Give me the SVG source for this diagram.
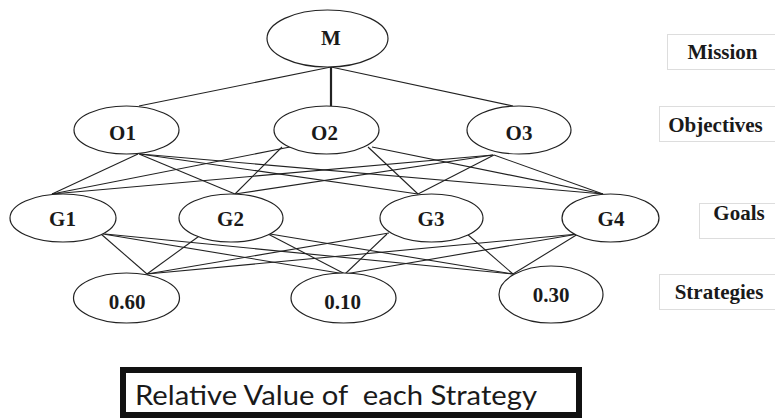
<svg xmlns="http://www.w3.org/2000/svg" width="775" height="418" viewBox="0 0 775 418">
  <style>
    .node ellipse { fill: #ffffff; stroke: #222222; stroke-width: 1.2; }
    .node text { font-family: "Liberation Serif", "Times New Roman", serif; font-weight: bold; font-size: 21px; fill: #1a1a1a; text-anchor: middle; }
    .links line { stroke: #222222; stroke-width: 1.1; }
    .level rect { fill: #ffffff; stroke: #dddddd; stroke-width: 1; }
    .level text { font-family: "Liberation Serif", "Times New Roman", serif; font-weight: bold; font-size: 21px; fill: #1a1a1a; text-anchor: middle; }
    .caption rect { fill: #ffffff; stroke: #111111; stroke-width: 6; }
    .caption text { font-family: "Lato", "Open Sans", sans-serif; font-size: 26px; fill: #1a1a1a; }
  </style>

  <!-- connectors -->
  <g class="links">
    <!-- mission to objectives -->
    <line x1="331" y1="67" x2="139" y2="106"/>
    <line x1="331" y1="67" x2="331" y2="106" style="stroke-width:2.2"/>
    <line x1="331" y1="67" x2="513" y2="106"/>
    <!-- objectives to goals -->
    <line x1="138" y1="154" x2="52" y2="194"/>
    <line x1="139" y1="154" x2="235" y2="194"/>
    <line x1="140" y1="154" x2="418" y2="194"/>
    <line x1="140" y1="154" x2="603" y2="194"/>
    <line x1="290" y1="147" x2="52" y2="194"/>
    <line x1="282" y1="147" x2="235" y2="194"/>
    <line x1="368" y1="147" x2="418" y2="194"/>
    <line x1="372" y1="147" x2="603" y2="194"/>
    <line x1="493" y1="155" x2="52" y2="194"/>
    <line x1="493" y1="155" x2="235" y2="194"/>
    <line x1="494" y1="155" x2="418" y2="194"/>
    <line x1="494" y1="155" x2="603" y2="194"/>
    <!-- goals to strategies -->
    <line x1="101" y1="234" x2="147" y2="274"/>
    <line x1="103" y1="234" x2="345" y2="274"/>
    <line x1="105" y1="234" x2="513" y2="274"/>
    <line x1="202" y1="234" x2="147" y2="274"/>
    <line x1="268" y1="234" x2="345" y2="274"/>
    <line x1="270" y1="234" x2="513" y2="274"/>
    <line x1="387" y1="234" x2="345" y2="274"/>
    <line x1="389" y1="233" x2="147" y2="274"/>
    <line x1="467" y1="234" x2="513" y2="274"/>
    <line x1="578" y1="234" x2="147" y2="274"/>
    <line x1="578" y1="234" x2="345" y2="274"/>
    <line x1="578" y1="234" x2="513" y2="274"/>
  </g>

  <!-- mission -->
  <g id="M" class="node">
    <ellipse cx="327.5" cy="38.5" rx="60.5" ry="28.5"/>
    <text x="331" y="45">M</text>
  </g>

  <!-- objectives -->
  <g id="O1" class="node">
    <ellipse cx="126.5" cy="130" rx="52.5" ry="24"/>
    <text x="122.5" y="140">O1</text>
  </g>
  <g id="O2" class="node">
    <ellipse cx="326.5" cy="130" rx="52.5" ry="24"/>
    <text x="324.5" y="140">O2</text>
  </g>
  <g id="O3" class="node">
    <ellipse cx="519" cy="130" rx="52" ry="24"/>
    <text x="519" y="140">O3</text>
  </g>

  <!-- goals -->
  <g id="G1" class="node">
    <ellipse cx="63" cy="218" rx="53" ry="24"/>
    <text x="62.5" y="226">G1</text>
  </g>
  <g id="G2" class="node">
    <ellipse cx="231" cy="218" rx="52" ry="24"/>
    <text x="230.5" y="226">G2</text>
  </g>
  <g id="G3" class="node">
    <ellipse cx="431.5" cy="218" rx="51.5" ry="24"/>
    <text x="431" y="226">G3</text>
  </g>
  <g id="G4" class="node">
    <ellipse cx="610.5" cy="218" rx="48.5" ry="24"/>
    <text x="611" y="226">G4</text>
  </g>

  <!-- strategies -->
  <g id="S1" class="node">
    <ellipse cx="126.5" cy="298" rx="53" ry="25"/>
    <text x="127" y="309">0.60</text>
  </g>
  <g id="S2" class="node">
    <ellipse cx="343.5" cy="298" rx="52.5" ry="25"/>
    <text x="342.5" y="309">0.10</text>
  </g>
  <g id="S3" class="node">
    <ellipse cx="551" cy="294.5" rx="52" ry="28.5"/>
    <text x="551" y="302">0.30</text>
  </g>

  <!-- level labels -->
  <g id="level-mission" class="level">
    <rect x="667.5" y="34.5" width="110" height="35"/>
    <text x="722.5" y="59">Mission</text>
  </g>
  <g id="level-objectives" class="level">
    <rect x="659.5" y="106.5" width="118" height="35"/>
    <text x="715.5" y="132">Objectives</text>
  </g>
  <g id="level-goals" class="level">
    <rect x="699.5" y="203.5" width="78" height="35"/>
    <text x="739" y="220">Goals</text>
  </g>
  <g id="level-strategies" class="level">
    <rect x="659.5" y="274.5" width="118" height="35"/>
    <text x="719" y="299">Strategies</text>
  </g>

  <!-- caption -->
  <g id="caption" class="caption">
    <rect x="123" y="370" width="456" height="45"/>
    <text x="135" y="405" textLength="402" lengthAdjust="spacingAndGlyphs" xml:space="preserve">Relative Value of  each Strategy</text>
  </g>
</svg>
